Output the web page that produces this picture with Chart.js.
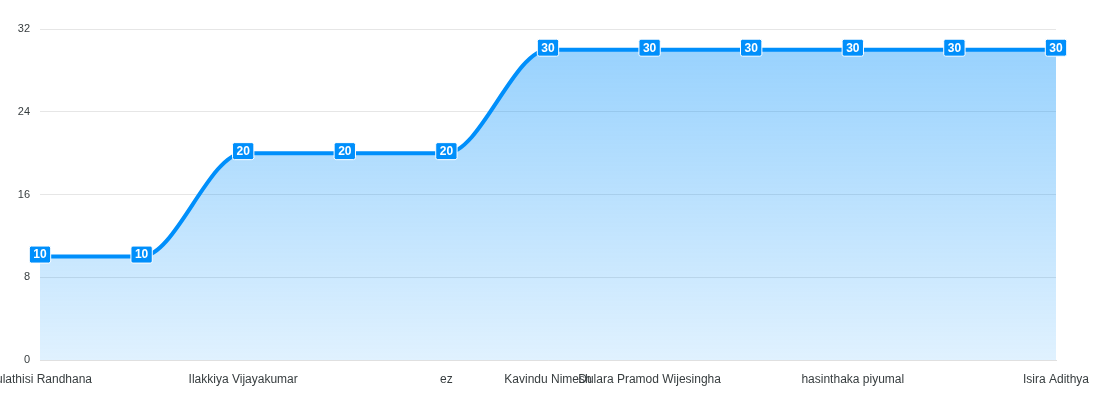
<!DOCTYPE html>
<html>
<head>
    <title>Area chart</title>
    <script src="https://cdn.jsdelivr.net/npm/chart.js"></script>
    <style>
        html, body { margin: 0; padding: 0; background: #fff; }
        #wrap { width: 1104px; height: 400px; }
    </style>
</head>
<body>
    <div id="wrap"><canvas id="areaChart"></canvas></div>

    <script>
        // Categories (names hidden in the picture are left blank)
        const names = [
            'Kulathisi Randhana', '', 'Ilakkiya Vijayakumar', '', 'ez',
            'Kavindu Nimesh', 'Dulara Pramod Wijesingha', '', 'hasinthaka piyumal', '',
            'Isira Adithya'
        ];
        const values = [10, 10, 20, 20, 20, 30, 30, 30, 30, 30, 30];
        const yTicks = [0, 8, 16, 24, 32];

        const blue = '#008ffb';
        const textColor = '#373d3f';

        // Boxed value labels on each point
        const valueLabels = {
            id: 'valueLabels',
            afterDatasetsDraw(chart) {
                const c = chart.ctx;
                const meta = chart.getDatasetMeta(0);
                c.save();
                c.font = 'bold 12px "Liberation Sans", Arial, sans-serif';
                c.textAlign = 'center';
                c.textBaseline = 'middle';
                meta.data.forEach((pt, i) => {
                    const txt = String(values[i]);
                    const w = c.measureText(txt).width + 8;
                    const h = 17;
                    const x = pt.x, y = pt.y - 2;
                    c.beginPath();
                    c.roundRect(x - w / 2, y - h / 2, w, h, 2);
                    c.fillStyle = blue;
                    c.fill();
                    c.lineWidth = 1;
                    c.strokeStyle = '#fff';
                    c.stroke();
                    c.fillStyle = '#fff';
                    c.fillText(txt, x, y + 0.5);
                });
                c.restore();
            }
        };

        const ctx = document.getElementById('areaChart').getContext('2d');

        new Chart(ctx, {
            type: 'line',
            data: {
                labels: names,
                datasets: [{
                    data: values,
                    borderColor: blue,
                    borderWidth: 4,
                    cubicInterpolationMode: 'monotone',
                    pointRadius: 0,
                    pointHoverRadius: 0,
                    fill: 'origin',
                    backgroundColor: (context) => {
                        const area = context.chart.chartArea;
                        if (!area) return 'rgba(0,143,251,0.3)';
                        const g = context.chart.ctx.createLinearGradient(0, area.top, 0, area.bottom);
                        g.addColorStop(0, 'rgba(0,143,251,0.42)');
                        g.addColorStop(1, 'rgba(0,143,251,0.12)');
                        return g;
                    }
                }]
            },
            options: {
                responsive: true,
                maintainAspectRatio: false,
                animation: false,
                layout: { padding: { top: 29, right: 48, left: 0, bottom: 0 } },
                plugins: {
                    legend: { display: false },
                    tooltip: { enabled: false }
                },
                scales: {
                    x: {
                        offset: false,
                        grid: { display: false, drawTicks: false },
                        border: { display: true, color: '#e0e0e0', width: 1 },
                        ticks: {
                            autoSkip: false,
                            maxRotation: 0,
                            minRotation: 0,
                            padding: 12,
                            color: textColor,
                            font: { family: '"Liberation Sans", Arial, sans-serif', size: 12 }
                        },
                        afterFit(scale) {
                            scale.paddingLeft = 0;
                            scale.paddingRight = 0;
                            scale.height = 40;
                        }
                    },
                    y: {
                        min: yTicks[0],
                        max: yTicks[yTicks.length - 1],
                        afterBuildTicks(scale) {
                            scale.ticks = yTicks.map(v => ({ value: v }));
                        },
                        grid: { color: '#e6e6e6', drawTicks: false },
                        border: { display: false },
                        ticks: {
                            padding: 10,
                            color: textColor,
                            font: { family: '"Liberation Sans", Arial, sans-serif', size: 11 }
                        },
                        afterFit(scale) {
                            scale.width = 40;
                            scale.paddingTop = 0;
                            scale.paddingBottom = 0;
                        }
                    }
                }
            },
            plugins: [valueLabels]
        });
    </script>
</body>
</html>
